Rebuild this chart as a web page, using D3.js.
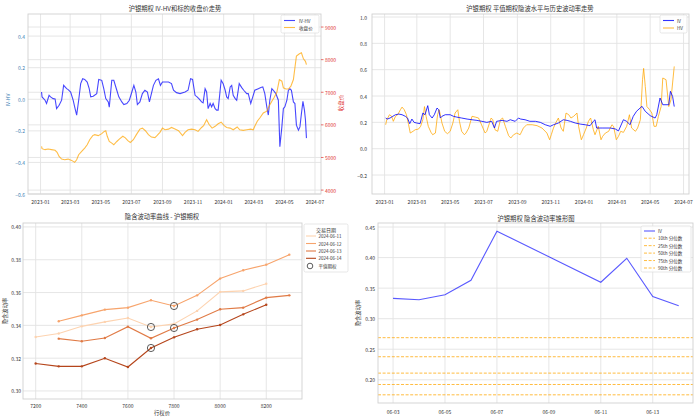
<!DOCTYPE html>
<html><head><meta charset="utf-8">
<script src="https://cdn.jsdelivr.net/npm/d3@7"></script>
<style>
body{margin:0;background:#fff}
svg{display:block}
text{font-family:"Noto Sans CJK SC","DejaVu Sans",sans-serif}
</style></head>
<body><svg id="c" width="700" height="419"></svg>
<script>
// ---------------- DATA ----------------
const ivhvSeries = [
["2023-01-03",0.046],["2023-01-04",0.015],["2023-01-10",-0.006],["2023-01-13",-0.027],["2023-01-18",0.025],["2023-01-21",0.015],["2023-01-26",0.004],["2023-01-30",0.002],
["2023-02-02",-0.059],["2023-02-07",-0.038],["2023-02-12",-0.006],["2023-02-16",0.088],["2023-02-22",0.067],["2023-02-25",0.061],["2023-03-02",0.046],["2023-03-07",-0.006],
["2023-03-10",-0.048],["2023-03-14",-0.10],["2023-03-18",-0.006],["2023-03-22",0.099],["2023-03-26",0.13],["2023-03-30",0.126],["2023-04-04",0.109],["2023-04-08",0.067],
["2023-04-11",0.015],["2023-04-16",0.019],["2023-04-23",0.036],["2023-04-27",0.126],["2023-05-03",0.12],["2023-05-07",0.067],["2023-05-11",0.004],["2023-05-16",-0.017],
["2023-05-18",-0.05],["2023-05-23",0.12],["2023-05-27",0.12],["2023-06-02",0.057],["2023-06-06",0.015],["2023-06-12",-0.017],["2023-06-16",-0.034],["2023-06-22",-0.027],
["2023-06-27",-0.006],["2023-07-02",0.046],["2023-07-06",0.088],["2023-07-10",0.046],["2023-07-13",-0.034],["2023-07-18",-0.017],["2023-07-23",0.036],["2023-07-28",0.057],
["2023-08-02",0.046],["2023-08-06",-0.017],["2023-08-10",0.036],["2023-08-14",0.088],["2023-08-19",0.12],["2023-08-24",0.13],["2023-08-28",0.088],["2023-09-01",0.109],
["2023-09-06",0.109],["2023-09-13",0.109],["2023-09-19",0.099],["2023-09-23",0.057],["2023-09-29",0.042],["2023-10-06",0.036],["2023-10-16",0.046],["2023-10-22",0.057],
["2023-10-27",0.13],["2023-10-31",0.126],["2023-11-05",0.025],["2023-11-09",0.015],["2023-11-13",0.002],["2023-11-18",-0.017],["2023-11-21",-0.023],["2023-11-25",0.067],
["2023-11-28",0.046],["2023-12-01",-0.059],["2023-12-05",-0.027],["2023-12-08",-0.048],["2023-12-11",-0.027],["2023-12-15",-0.059],["2023-12-18",-0.069],["2023-12-21",-0.069],
["2023-12-27",0.12],["2023-12-31",0.099],["2024-01-04",0.057],["2024-01-07",0.015],["2024-01-10",0.004],["2024-01-14",0.078],["2024-01-17",0.088],["2024-01-20",0.025],
["2024-01-24",0.004],["2024-01-27",-0.006],["2024-02-01",0.099],["2024-02-06",0.074],["2024-02-10",0.057],["2024-02-16",0.036],["2024-02-19",0.036],["2024-02-24",-0.027],
["2024-02-28",0.015],["2024-03-03",0.057],["2024-03-10",0.067],["2024-03-15",0.074],["2024-03-19",0.078],["2024-03-23",0.036],["2024-03-27",-0.048],["2024-03-30",-0.10],
["2024-04-02",-0.006],["2024-04-06",0.067],["2024-04-09",0.057],["2024-04-14",0.036],["2024-04-19",-0.006],["2024-04-22",-0.30],["2024-04-26",-0.175],["2024-04-29",-0.059],
["2024-05-02",-0.048],["2024-05-06",-0.006],["2024-05-09",0.057],["2024-05-12",0.067],["2024-05-15",0.057],["2024-05-19",-0.017],["2024-05-22",-0.027],["2024-05-25",-0.164],
["2024-05-29",-0.196],["2024-06-01",-0.175],["2024-06-04",-0.09],["2024-06-07",-0.013],["2024-06-10",-0.069],["2024-06-12",-0.13],["2024-06-14",-0.246]
];
const closeSeries = [
["2023-01-03",5340],["2023-01-04",5270],["2023-01-10",5240],["2023-01-16",5260],["2023-01-23",5240],["2023-01-30",5220],["2023-02-03",5160],["2023-02-07",5030],
["2023-02-12",4950],["2023-02-18",4930],["2023-02-25",4950],["2023-03-04",4910],["2023-03-10",4850],["2023-03-14",4930],["2023-03-18",5085],["2023-03-24",5190],
["2023-03-30",5290],["2023-04-04",5390],["2023-04-09",5545],["2023-04-15",5670],["2023-04-19",5700],["2023-04-26",5670],["2023-05-03",5730],["2023-05-08",5800],
["2023-05-11",5820],["2023-05-14",5650],["2023-05-18",5490],["2023-05-23",5440],["2023-05-27",5390],["2023-06-02",5490],["2023-06-07",5565],["2023-06-14",5650],
["2023-06-19",5600],["2023-06-24",5515],["2023-06-29",5460],["2023-07-05",5545],["2023-07-11",5700],["2023-07-18",5870],["2023-07-23",5900],["2023-07-29",5820],
["2023-08-04",5700],["2023-08-10",5625],["2023-08-17",5610],["2023-08-21",5670],["2023-08-27",5770],["2023-09-01",5900],["2023-09-06",5850],["2023-09-13",5870],
["2023-09-19",5920],["2023-09-26",5870],["2023-10-03",5820],["2023-10-11",5670],["2023-10-16",5770],["2023-10-22",5850],["2023-10-29",5870],["2023-11-05",5850],
["2023-11-11",5800],["2023-11-18",5920],["2023-11-22",5975],["2023-11-28",6160],["2023-12-03",6010],["2023-12-09",5900],["2023-12-15",5955],["2023-12-21",6035],
["2023-12-27",6080],["2024-01-02",5975],["2024-01-07",5920],["2024-01-14",5900],["2024-01-20",5850],["2024-01-28",5935],["2024-02-02",5850],["2024-02-09",5830],
["2024-02-16",5850],["2024-02-24",5870],["2024-02-29",5850],["2024-03-03",5955],["2024-03-08",6110],["2024-03-13",6210],["2024-03-20",6365],["2024-03-27",6420],
["2024-04-01",6590],["2024-04-06",6725],["2024-04-10",6825],["2024-04-16",7000],["2024-04-21",7390],["2024-04-26",7340],["2024-04-29",7135],["2024-05-04",7100],
["2024-05-09",7100],["2024-05-14",7185],["2024-05-19",7390],["2024-05-22",7750],["2024-05-25",8110],["2024-05-31",8180],["2024-06-04",8210],["2024-06-08",8025],
["2024-06-12",7950],["2024-06-14",7850]
];
const ivSeries = [
["2023-01-03",0.233],["2023-01-06",0.225],["2023-01-11",0.233],["2023-01-16",0.246],["2023-01-21",0.258],["2023-01-27",0.263],["2023-02-02",0.258],["2023-02-08",0.246],
["2023-02-12",0.233],["2023-02-16",0.19],["2023-02-20",0.225],["2023-02-24",0.2],["2023-03-01",0.195],["2023-03-07",0.19],["2023-03-12",0.271],["2023-03-16",0.258],
["2023-03-21",0.327],["2023-03-24",0.258],["2023-03-29",0.233],["2023-04-02",0.258],["2023-04-07",0.309],["2023-04-10",0.296],["2023-04-13",0.233],["2023-04-16",0.246],
["2023-04-22",0.258],["2023-05-01",0.258],["2023-05-07",0.246],["2023-05-13",0.24],["2023-05-22",0.233],["2023-06-01",0.225],["2023-06-10",0.22],["2023-06-19",0.215],
["2023-06-28",0.208],["2023-07-07",0.2],["2023-07-16",0.208],["2023-07-21",0.157],["2023-07-25",0.208],["2023-08-04",0.215],["2023-08-13",0.208],["2023-08-19",0.22],
["2023-08-28",0.208],["2023-09-03",0.233],["2023-09-07",0.225],["2023-09-15",0.22],["2023-09-24",0.208],["2023-10-04",0.208],["2023-10-13",0.2],["2023-10-22",0.182],
["2023-10-31",0.17],["2023-11-06",0.182],["2023-11-15",0.195],["2023-11-24",0.22],["2023-12-01",0.215],["2023-12-07",0.208],["2023-12-16",0.195],["2023-12-25",0.187],
["2024-01-03",0.182],["2024-01-12",0.175],["2024-01-18",0.208],["2024-01-21",0.22],["2024-01-24",0.157],["2024-02-03",0.157],["2024-02-18",0.157],["2024-02-27",0.15],
["2024-03-04",0.135],["2024-03-13",0.22],["2024-03-19",0.208],["2024-03-25",0.182],["2024-03-31",0.246],["2024-04-06",0.284],["2024-04-16",0.322],["2024-04-22",0.284],
["2024-05-01",0.251],["2024-05-10",0.233],["2024-05-13",0.258],["2024-05-19",0.385],["2024-05-24",0.334],["2024-06-04",0.334],["2024-06-07",0.436],["2024-06-11",0.397],
["2024-06-14",0.32]
];
const hvSeries = [
["2023-01-03",0.182],["2023-01-05",0.22],["2023-01-10",0.258],["2023-01-14",0.246],["2023-01-17",0.208],["2023-01-21",0.246],["2023-01-25",0.258],["2023-01-30",0.296],
["2023-02-02",0.316],["2023-02-06",0.296],["2023-02-10",0.258],["2023-02-14",0.182],["2023-02-17",0.119],["2023-02-22",0.132],["2023-02-26",0.144],["2023-03-04",0.149],
["2023-03-08",0.17],["2023-03-12",0.22],["2023-03-15",0.32],["2023-03-18",0.246],["2023-03-22",0.17],["2023-03-27",0.124],["2023-03-30",0.106],["2023-04-04",0.119],
["2023-04-08",0.258],["2023-04-11",0.296],["2023-04-13",0.258],["2023-04-16",0.195],["2023-04-21",0.132],["2023-04-26",0.114],["2023-05-01",0.132],["2023-05-06",0.195],
["2023-05-10",0.271],["2023-05-15",0.296],["2023-05-18",0.208],["2023-05-22",0.132],["2023-05-27",0.106],["2023-05-30",0.119],["2023-06-04",0.157],["2023-06-10",0.246],
["2023-06-16",0.24],["2023-06-22",0.233],["2023-06-26",0.195],["2023-06-30",0.157],["2023-07-04",0.119],["2023-07-07",0.132],["2023-07-12",0.195],["2023-07-15",0.233],
["2023-07-18",0.22],["2023-07-22",0.144],["2023-07-27",0.132],["2023-08-01",0.22],["2023-08-05",0.233],["2023-08-10",0.17],["2023-08-16",0.099],["2023-08-20",0.081],
["2023-08-25",0.106],["2023-08-31",0.119],["2023-09-06",0.106],["2023-09-12",0.157],["2023-09-18",0.182],["2023-09-28",0.182],["2023-10-07",0.175],["2023-10-16",0.157],
["2023-10-25",0.119],["2023-10-30",0.068],["2023-11-02",0.106],["2023-11-06",0.157],["2023-11-10",0.195],["2023-11-15",0.233],["2023-11-20",0.157],["2023-11-24",0.132],
["2023-11-29",0.271],["2023-12-04",0.258],["2023-12-08",0.233],["2023-12-13",0.246],["2023-12-19",0.271],["2023-12-22",0.17],["2023-12-27",0.068],["2023-12-31",0.106],
["2024-01-05",0.157],["2024-01-09",0.208],["2024-01-13",0.233],["2024-01-18",0.144],["2024-01-21",0.106],["2024-01-27",0.17],["2024-02-01",0.068],["2024-02-04",0.094],
["2024-02-09",0.119],["2024-02-15",0.132],["2024-02-21",0.182],["2024-02-24",0.17],["2024-02-29",0.068],["2024-03-04",0.094],["2024-03-08",0.132],["2024-03-13",0.124],
["2024-03-19",0.17],["2024-03-24",0.258],["2024-03-28",0.157],["2024-04-04",0.132],["2024-04-08",0.157],["2024-04-13",0.22],["2024-04-17",0.524],["2024-04-19",0.61],
["2024-04-22",0.473],["2024-04-25",0.32],["2024-04-30",0.296],["2024-05-04",0.271],["2024-05-08",0.17],["2024-05-12",0.17],["2024-05-16",0.246],["2024-05-21",0.32],
["2024-05-24",0.537],["2024-05-30",0.524],["2024-06-04",0.32],["2024-06-08",0.372],["2024-06-11",0.499],["2024-06-14",0.625]
];
const monthTicks = ["2023-01","2023-03","2023-05","2023-07","2023-09","2023-11","2024-01","2024-03","2024-05","2024-07"];
const ivhvTicks = [-0.6,-0.4,-0.2,0.0,0.2,0.4];
const closeTicks = [4000,5000,6000,7000,8000,9000];
const ivTicks = [-0.2,0.0,0.2,0.4,0.6,0.8,1.0];

const strikes = [7200,7300,7400,7500,7600,7700,7800,7900,8000,8100,8200,8300];
const smileDates = ["2024-06-11","2024-06-12","2024-06-13","2024-06-14"];
const smile0611 = [0.3329,0.3350,0.3394,0.3421,0.3445,0.3390,0.3409,0.3488,0.3604,0.3610,0.3654,null];
const smile0612 = [null,0.3425,0.3461,0.3496,0.3508,0.3553,0.3518,0.3583,0.3685,0.3736,0.3770,0.3831];
const smile0613 = [null,0.3319,0.3303,0.3323,0.3392,0.3321,0.3384,0.3435,0.3498,0.3508,0.3569,0.3583];
const smile0614 = [0.3167,0.3150,0.3150,0.3199,0.3146,0.3262,0.3327,0.3376,0.3402,0.3467,0.3526,null];
const atmStrikes = [7700,7800,7800,7700];
const strikeTicks = [7200,7400,7600,7800,8000,8200];
const smileTicks = [0.30,0.32,0.34,0.36,0.38,0.40];

const coneDates = ["2024-06-03","2024-06-04","2024-06-05","2024-06-06","2024-06-07","2024-06-11","2024-06-12","2024-06-13","2024-06-14"];
const coneIV = [0.3333,0.3311,0.3393,0.3628,0.4432,0.3596,0.3989,0.3361,0.3213];
const pctLabels = ["10th","25th","50th","75th","90th"];
const pctValues = [0.1754,0.1923,0.2109,0.2377,0.2689];
const coneTicks = ["06-03","06-05","06-07","06-09","06-11","06-13"];
const coneYTicks = [0.20,0.25,0.30,0.35,0.40,0.45];

// ---------------- DRAW ----------------
const svg = d3.select("#c");
const P = d3.timeParse("%Y-%m-%d");
const PM = d3.timeParse("%Y-%m");
const GRID = "#e3e3e3", SPINE = "#d0d0d0", TXT = "#333";
const dayMs = 864e5;

function frame(b){
  svg.append("rect").attr("x",b.x0).attr("y",b.y0).attr("width",b.x1-b.x0).attr("height",b.y1-b.y0)
    .attr("fill","none").attr("stroke",SPINE).attr("stroke-width",0.9);
}
function hgrid(b,y,ticks){
  svg.append("g").selectAll("line").data(ticks).join("line")
    .attr("x1",b.x0).attr("x2",b.x1).attr("y1",d=>y(d)).attr("y2",d=>y(d))
    .attr("stroke",GRID).attr("stroke-width",0.9);
}
function vgrid(b,x,ticks){
  svg.append("g").selectAll("line").data(ticks).join("line")
    .attr("y1",b.y0).attr("y2",b.y1).attr("x1",d=>x(d)).attr("x2",d=>x(d))
    .attr("stroke",GRID).attr("stroke-width",0.9);
}
function txt(x,y,s,o={}){
  const t = svg.append("text").attr("x",x).attr("y",y).text(s)
    .attr("font-size",o.size||5).attr("fill",o.color||TXT)
    .attr("text-anchor",o.anchor||"middle").attr("dominant-baseline",o.base||"central");
  if(o.rot) t.attr("transform",`rotate(${o.rot},${x},${y})`);
  return t;
}
const fmt1 = d3.format(".1f"), fmt2 = d3.format(".2f");

// ===== Top-left =====
{
  const b = {x0:28,x1:321,y0:14,y1:194};
  const x = d3.scaleTime().domain([new Date(2022,11,7),new Date(2024,6,13)]).range([b.x0,b.x1]);
  const y = d3.scaleLinear().domain([-0.6,0.54]).range([b.y1,b.y0]);
  const y2 = d3.scaleLinear().domain([3880,9400]).range([b.y1,b.y0]);
  const mt = monthTicks.map(PM);
  vgrid(b,x,mt); hgrid(b,y,ivhvTicks); hgrid(b,y2,closeTicks);
  const lineA = d3.line().x(d=>x(P(d[0]))).y(d=>y(d[1]));
  const lineB = d3.line().x(d=>x(P(d[0]))).y(d=>y2(d[1]));
  svg.append("path").attr("d",lineA(ivhvSeries)).attr("fill","none").attr("stroke","#0000ff").attr("stroke-opacity",0.72).attr("stroke-width",1.1);
  svg.append("path").attr("d",lineB(closeSeries)).attr("fill","none").attr("stroke","#ffa500").attr("stroke-opacity",0.72).attr("stroke-width",1.1);
  frame(b);
  mt.forEach((d,i)=>txt(x(d),201,monthTicks[i]));
  ivhvTicks.forEach(d=>txt(25,y(d),fmt1(d),{anchor:"end",color:"#3f7fb5"}));
  closeTicks.forEach(d=>{
    svg.append("line").attr("x1",b.x1).attr("x2",b.x1+2.5).attr("y1",y2(d)).attr("y2",y2(d)).attr("stroke","#e03030").attr("stroke-width",0.7);
    txt(325,y2(d),String(d),{anchor:"start",color:"#e03030"});
  });
  txt(7,100,"IV-HV",{color:"#3f7fb5",rot:-90,size:5.2});
  txt(341,103,"收盘价",{color:"#e03030",rot:-90,size:5.5});
  txt(175,8,"沪银期权 IV-HV和标的收盘价走势",{size:6.3});
  // legend
  svg.append("rect").attr("x",281).attr("y",15).attr("width",38).attr("height",18).attr("rx",1.5)
     .attr("fill","#fff").attr("fill-opacity",0.85).attr("stroke","#ddd").attr("stroke-width",0.7);
  svg.append("line").attr("x1",284).attr("x2",295).attr("y1",20.5).attr("y2",20.5).attr("stroke","#0000ff").attr("stroke-opacity",0.72).attr("stroke-width",1.1);
  svg.append("line").attr("x1",284).attr("x2",295).attr("y1",27.5).attr("y2",27.5).attr("stroke","#ffa500").attr("stroke-opacity",0.72).attr("stroke-width",1.1);
  txt(299,20.5,"IV-HV",{anchor:"start",size:4.6});
  txt(299,27.5,"收盘价",{anchor:"start",size:4.6});
}

// ===== Top-right =====
{
  const b = {x0:372,x1:689,y0:14,y1:194};
  const x = d3.scaleTime().domain([new Date(2022,11,9),new Date(2024,6,11)]).range([b.x0,b.x1]);
  const y = d3.scaleLinear().domain([-0.344,1.023]).range([b.y1,b.y0]);
  const mt = monthTicks.map(PM);
  vgrid(b,x,mt); hgrid(b,y,ivTicks);
  const line = d3.line().x(d=>x(P(d[0]))).y(d=>y(d[1]));
  svg.append("path").attr("d",line(hvSeries)).attr("fill","none").attr("stroke","#ffa500").attr("stroke-opacity",0.75).attr("stroke-width",1.0);
  svg.append("path").attr("d",line(ivSeries)).attr("fill","none").attr("stroke","#0000ff").attr("stroke-opacity",0.8).attr("stroke-width",1.0);
  frame(b);
  mt.forEach((d,i)=>txt(x(d),201,monthTicks[i]));
  ivTicks.forEach(d=>txt(367,y(d),fmt1(d),{anchor:"end"}));
  txt(530,8,"沪银期权 平值期权隐波水平与历史波动率走势",{size:6.3});
  svg.append("rect").attr("x",660).attr("y",15).attr("width",27).attr("height",18).attr("rx",1.5)
     .attr("fill","#fff").attr("fill-opacity",0.85).attr("stroke","#ddd").attr("stroke-width",0.7);
  svg.append("line").attr("x1",663).attr("x2",674).attr("y1",20.5).attr("y2",20.5).attr("stroke","#0000ff").attr("stroke-opacity",0.8).attr("stroke-width",1.1);
  svg.append("line").attr("x1",663).attr("x2",674).attr("y1",28).attr("y2",28).attr("stroke","#ffa500").attr("stroke-opacity",0.75).attr("stroke-width",1.1);
  txt(677,20.5,"IV",{anchor:"start",size:4.6});
  txt(677,28,"HV",{anchor:"start",size:4.6});
}

// ===== Bottom-left =====
{
  const b = {x0:23,x1:302,y0:223,y1:399};
  const x = d3.scaleLinear().domain([7145,8355]).range([b.x0,b.x1]);
  const y = d3.scaleLinear().domain([0.2951,0.4024]).range([b.y1,b.y0]);
  vgrid(b,x,strikeTicks); hgrid(b,y,smileTicks);
  const colors = ["#fdd3b0","#f7a46c","#e07a45","#b5451b"];
  const series = [smile0611,smile0612,smile0613,smile0614];
  const line = d3.line().defined(d=>d[1]!=null).x(d=>x(d[0])).y(d=>y(d[1]));
  series.forEach((s,i)=>{
    const pts = strikes.map((k,j)=>[k,s[j]]);
    svg.append("path").attr("d",line(pts)).attr("fill","none").attr("stroke",colors[i]).attr("stroke-width",1.1);
    svg.append("g").selectAll("circle").data(pts.filter(d=>d[1]!=null)).join("circle")
      .attr("cx",d=>x(d[0])).attr("cy",d=>y(d[1])).attr("r",1.2).attr("fill",colors[i]);
  });
  series.forEach((s,i)=>{
    const j = strikes.indexOf(atmStrikes[i]);
    svg.append("circle").attr("cx",x(atmStrikes[i])).attr("cy",y(s[j])).attr("r",3.6)
      .attr("fill","none").attr("stroke","#333").attr("stroke-width",0.8);
  });
  frame(b);
  strikeTicks.forEach(d=>txt(x(d),405,String(d)));
  smileTicks.forEach(d=>txt(21,y(d),fmt2(d),{anchor:"end"}));
  txt(162,412.5,"行权价",{size:5.3});
  txt(5,311,"隐含波动率",{rot:-90,size:5.3});
  txt(162,216,"隐含波动率曲线 - 沪银期权",{size:6.3});
  // legend
  svg.append("rect").attr("x",304).attr("y",224).attr("width",44).attr("height",48).attr("rx",1.5)
     .attr("fill","#fff").attr("stroke","#ddd").attr("stroke-width",0.7);
  txt(326,229,"交易日期",{size:5});
  const ly = [236,243.5,251,258.3];
  smileDates.forEach((d,i)=>{
    svg.append("line").attr("x1",306).attr("x2",316).attr("y1",ly[i]).attr("y2",ly[i]).attr("stroke",colors[i]).attr("stroke-width",1.1);
    txt(318.5,ly[i],d,{anchor:"start",size:4.5});
  });
  svg.append("circle").attr("cx",310).attr("cy",266).attr("r",2.8).attr("fill","none").attr("stroke","#333").attr("stroke-width",0.8);
  txt(318.5,266,"平值期权",{anchor:"start",size:4.5});
}

// ===== Bottom-right =====
{
  const b = {x0:378,x1:693,y0:223,y1:403};
  const d0 = P(coneDates[0]), d1 = P(coneDates[coneDates.length-1]);
  const x = d3.scaleTime().domain([new Date(+d0-0.58*dayMs),new Date(+d1+0.55*dayMs)]).range([b.x0,b.x1]);
  const y = d3.scaleLinear().domain([0.162,0.4566]).range([b.y1,b.y0]);
  const xt = coneTicks.map(s=>P("2024-"+s));
  vgrid(b,x,xt); hgrid(b,y,coneYTicks);
  const pc = "#ffa500";
  pctValues.forEach(v=>{
    svg.append("line").attr("x1",b.x0).attr("x2",b.x1).attr("y1",y(v)).attr("y2",y(v))
      .attr("stroke",pc).attr("stroke-opacity",0.75).attr("stroke-width",1).attr("stroke-dasharray","3,1.6");
  });
  const line = d3.line().x((d,i)=>x(P(coneDates[i]))).y(d=>y(d));
  svg.append("path").attr("d",line(coneIV)).attr("fill","none").attr("stroke","#0000ff").attr("stroke-opacity",0.65).attr("stroke-width",1.1);
  frame(b);
  xt.forEach((d,i)=>txt(x(d),411,coneTicks[i]));
  coneYTicks.forEach(d=>txt(375,y(d),fmt2(d),{anchor:"end"}));
  txt(358,313,"隐含波动率",{rot:-90,size:5.3});
  txt(536,218,"沪银期权 隐含波动率锥形图",{size:6.3});
  svg.append("rect").attr("x",641).attr("y",226).attr("width",50).attr("height",46).attr("rx",1.5)
     .attr("fill","#fff").attr("fill-opacity",0.85).attr("stroke","#ddd").attr("stroke-width",0.7);
  svg.append("line").attr("x1",644).attr("x2",655).attr("y1",231).attr("y2",231).attr("stroke","#0000ff").attr("stroke-opacity",0.65).attr("stroke-width",1.1);
  txt(658,231,"IV",{anchor:"start",size:4.6});
  pctLabels.forEach((l,i)=>{
    const yy = 238.2+i*7.45;
    svg.append("line").attr("x1",644).attr("x2",655).attr("y1",yy).attr("y2",yy).attr("stroke",pc).attr("stroke-opacity",0.75).attr("stroke-width",1).attr("stroke-dasharray","3,1.6");
    txt(658,yy,l+" 分位数",{anchor:"start",size:4.6});
  });
}
</script></body></html>
